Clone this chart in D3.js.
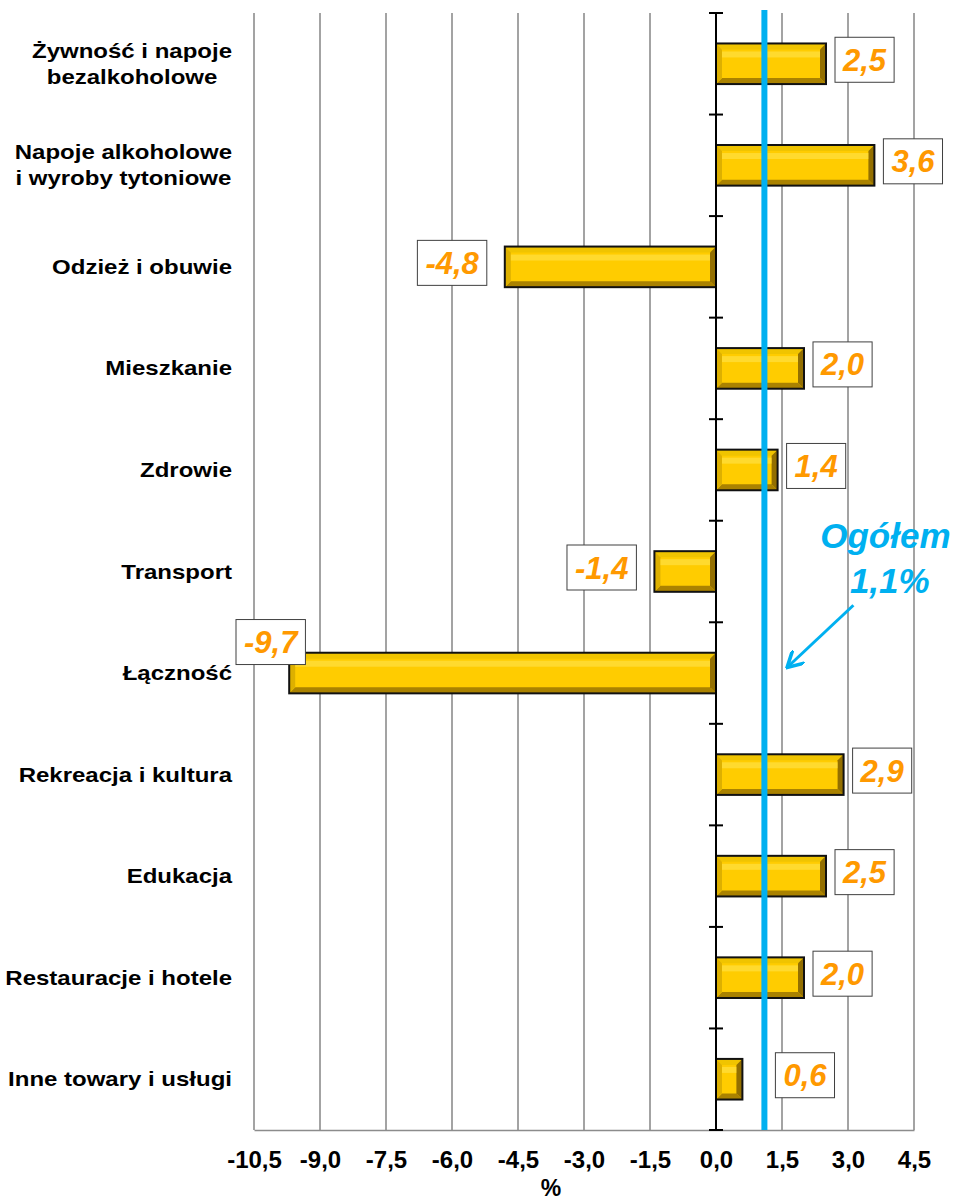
<!DOCTYPE html>
<html>
<head>
<meta charset="utf-8">
<script src="https://cdn.jsdelivr.net/npm/d3@7"></script>
<style>
  body { margin: 0; background: #fff; }
  svg { display: block; font-family: Arial, "Liberation Sans", sans-serif; }
</style>
</head>
<body>
<div id="chart"></div>
<script>
(() => {
  const categories = [
    "Żywność i napoje\nbezalkoholowe",
    "Napoje alkoholowe\ni wyroby tytoniowe",
    "Odzież i obuwie",
    "Mieszkanie",
    "Zdrowie",
    "Transport",
    "Łączność",
    "Rekreacja i kultura",
    "Edukacja",
    "Restauracje i hotele",
    "Inne towary i usługi"
  ];
  const values = [2.5, 3.6, -4.8, 2.0, 1.4, -1.4, -9.7, 2.9, 2.5, 2.0, 0.6];
  const xTicks = [-10.5, -9, -7.5, -6, -4.5, -3, -1.5, 0, 1.5, 3, 4.5];
  const overall = 1.1;
  const overallLabel = ["Ogółem", "1,1%"];

  const width = 955;
  const height = 1204;
  const margin = { top: 13, right: 41, bottom: 74, left: 254 };
  const font = "Arial, 'Liberation Sans', sans-serif";

  const fmt = (v) => d3.format(".1f")(v).replace(".", ",").replace("\u2212", "-");

  const x = d3.scaleLinear()
    .domain([-10.5, 4.5])
    .range([margin.left, width - margin.right]);
  const y = d3.scaleBand()
    .domain(d3.range(categories.length))
    .range([margin.top, height - margin.bottom])
    .paddingInner(0.6)
    .paddingOuter(0.3);
  const step = y.step();
  const bandTop = (i) => margin.top + i * step;

  const svg = d3.select("#chart").append("svg")
    .attr("width", width)
    .attr("height", height);

  // gridlines
  svg.append("g").selectAll("line")
    .data(xTicks.filter((t) => t !== 0))
    .join("line")
    .attr("x1", (d) => x(d)).attr("x2", (d) => x(d))
    .attr("y1", margin.top).attr("y2", height - margin.bottom)
    .attr("stroke", "#8c8c8c").attr("stroke-width", 1.6);

  // bottom axis
  const xAxis = svg.append("g")
    .attr("transform", `translate(0, ${height - margin.bottom})`)
    .call(d3.axisBottom(x).tickValues(xTicks).tickFormat(fmt).tickSize(0).tickPadding(21));
  xAxis.attr("font-family", font);
  xAxis.select(".domain").attr("stroke", "#8c8c8c").attr("stroke-width", 1.6);
  xAxis.selectAll("text")
    .attr("font-size", 24).attr("font-weight", "bold").attr("fill", "#000");

  svg.append("text")
    .attr("x", x(-3.75)).attr("y", height - 8)
    .attr("text-anchor", "middle")
    .attr("font-size", 23).attr("font-weight", "bold")
    .text("%");

  // bars with bevel
  const bev = 6;
  const bars = svg.append("g").selectAll("g")
    .data(values)
    .join("g");
  bars.each(function (v, i) {
    const g = d3.select(this);
    const x0 = Math.min(x(0), x(v));
    const x1 = Math.max(x(0), x(v));
    const y0 = y(i);
    const y1 = y(i) + y.bandwidth();
    const b = Math.min(bev, (x1 - x0) / 2);
    g.append("rect")
      .attr("x", x0).attr("y", y0)
      .attr("width", x1 - x0).attr("height", y1 - y0)
      .attr("fill", "#FFCC00");
    const poly = (pts, c) => g.append("polygon")
      .attr("points", pts.map((p) => p.join(",")).join(" "))
      .attr("fill", c);
    poly([[x0, y0], [x1, y0], [x1 - b, y0 + b], [x0 + b, y0 + b]], "#F0C400");
    poly([[x0, y1], [x1, y1], [x1 - b, y1 - b], [x0 + b, y1 - b]], "#AA8200");
    poly([[x0, y0], [x0 + b, y0 + b], [x0 + b, y1 - b], [x0, y1]], "#DDB000");
    poly([[x1, y0], [x1 - b, y0 + b], [x1 - b, y1 - b], [x1, y1]], "#936F00");
    g.append("rect")
      .attr("x", x0 + b).attr("y", y0 + b + 2)
      .attr("width", Math.max(0, x1 - x0 - 2 * b)).attr("height", 6)
      .attr("fill", "#FFE34D").attr("opacity", 0.6);
    g.append("rect")
      .attr("x", x0).attr("y", y0)
      .attr("width", x1 - x0).attr("height", y1 - y0)
      .attr("fill", "none").attr("stroke", "#111").attr("stroke-width", 2);
  });

  // zero axis with ticks
  svg.append("line")
    .attr("x1", x(0)).attr("x2", x(0))
    .attr("y1", margin.top).attr("y2", height - margin.bottom)
    .attr("stroke", "#000").attr("stroke-width", 2);
  svg.append("g").selectAll("line")
    .data(d3.range(categories.length + 1))
    .join("line")
    .attr("x1", x(0) - 7).attr("x2", x(0) + 7)
    .attr("y1", (i) => bandTop(i)).attr("y2", (i) => bandTop(i))
    .attr("stroke", "#000").attr("stroke-width", 2);

  // overall line
  svg.append("line")
    .attr("x1", x(overall)).attr("x2", x(overall))
    .attr("y1", margin.top - 3).attr("y2", height - margin.bottom)
    .attr("stroke", "#00B0F0").attr("stroke-width", 6);

  // category labels
  const catG = svg.append("g");
  categories.forEach((c, i) => {
    const lines = c.split("\n");
    const cy = bandTop(i) + step / 2;
    const t = catG.append("text")
      .attr("transform", `translate(232, ${cy}) scale(1.2, 1)`)
      .attr("font-size", 20).attr("font-weight", "bold")
      .attr("fill", "#000");
    const lh = 26;
    const tspans = lines.map((l, k) => t.append("tspan")
      .attr("x", 0)
      .attr("y", (k - (lines.length - 1) / 2) * lh + 7)
      .text(l));
    const widths = tspans.map((s) => s.node().getComputedTextLength());
    const maxW = d3.max(widths);
    tspans.forEach((s) => s.attr("x", -maxW / 2).attr("text-anchor", "middle"));
  });

  // value labels
  const labG = svg.append("g");
  values.forEach((v, i) => {
    const cy = y(i) + y.bandwidth() / 2 - 4;
    const t = labG.append("text")
      .attr("font-size", 31).attr("font-weight", "bold").attr("font-style", "italic")
      .attr("fill", "#FF9900")
      .attr("text-anchor", "middle")
      .text(fmt(v));
    const tw = t.node().getComputedTextLength();
    const bw = tw + 16;
    const bh = 45;
    let bx, by = cy - bh / 2;
    if (v >= 0) {
      bx = Math.max(x(v) + 9, x(overall) + 11);
    } else {
      bx = x(v) - 18 - bw;
      if (bx < x(-10.5) - 18) {
        bx = x(-10.5) - 18;
        by -= 27;
      }
    }
    labG.insert("rect", () => t.node())
      .attr("x", bx).attr("y", by)
      .attr("width", bw).attr("height", bh)
      .attr("fill", "#fff").attr("stroke", "#404040").attr("stroke-width", 1);
    t.attr("x", bx + bw / 2).attr("y", by + bh / 2 + 11);
  });

  // overall annotation
  const ann = svg.append("text")
    .attr("font-size", 35).attr("font-weight", "bold").attr("font-style", "italic")
    .attr("fill", "#00B0F0").attr("text-anchor", "middle");
  ann.append("tspan").attr("x", x(3.85)).attr("y", bandTop(5) + 27).text(overallLabel[0]);
  ann.append("tspan").attr("x", x(3.95)).attr("y", bandTop(5) + 72).text(overallLabel[1]);

  svg.append("defs").append("marker")
    .attr("id", "arr")
    .attr("viewBox", "0 0 10 10")
    .attr("refX", 8).attr("refY", 5)
    .attr("markerWidth", 6).attr("markerHeight", 6)
    .attr("orient", "auto")
    .append("path")
    .attr("d", "M0,0 L9,5 L0,10")
    .attr("fill", "none").attr("stroke", "#00B0F0").attr("stroke-width", 2);
  svg.append("line")
    .attr("x1", x(overall) + 89).attr("y1", bandTop(6) - 17)
    .attr("x2", x(overall) + 24).attr("y2", bandTop(6) + 44)
    .attr("stroke", "#00B0F0").attr("stroke-width", 3)
    .attr("marker-end", "url(#arr)");
})();
</script>
</body>
</html>
